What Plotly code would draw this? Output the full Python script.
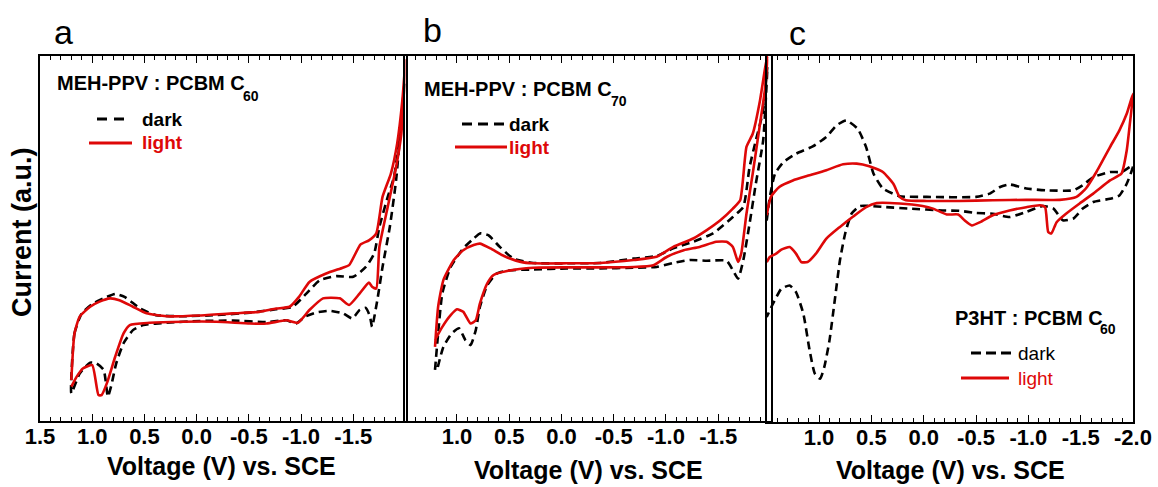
import plotly.graph_objects as go

W, H = 1158, 487

# ---------------- data (voltage V vs SCE, current a.u.) ----------------
a_dark_v = [1.20, 1.17, 1.10, 0.99, 0.86, 0.78, 0.69, 0.54, 0.39, 0.13, -0.19, -0.51, -0.76, -0.92, -1.05, -1.18, -1.34, -1.50, -1.62, -1.70, -1.75, -1.83, -1.89, -1.96, -1.99,
            -1.97, -1.91, -1.85, -1.78, -1.73, -1.68, -1.66, -1.62, -1.56, -1.49, -1.40, -1.27, -1.14, -1.04, -0.95, -0.86, -0.67, -0.35, -0.03, 0.29, 0.51, 0.61, 0.70, 0.77, 0.82, 0.85, 0.89, 0.96, 1.02, 1.12, 1.20]
a_dark_i = [7.6, 24, 29.5, 32.2, 34, 34.8, 34, 30.8, 29, 28.7, 29, 29.7, 30.6, 31.3, 34.9, 38.6, 39.7, 39.5, 42.2, 45.9, 53.2, 61.4, 66.9, 81.5, 92.4,
            86, 66, 53.2, 42.2, 33.1, 25.8, 28.6, 31, 30.4, 28.1, 29.5, 30.2, 29.7, 28.6, 26.7, 27.6, 27.1, 27.5, 27.4, 26.9, 26.3, 24.9, 21.3, 15.8, 9.4, 6.7, 14, 15.8, 16, 13, 7.6]

a_light_v = [1.20, 1.17, 1.12, 1.02, 0.93, 0.83, 0.74, 0.61, 0.48, 0.29, -0.03, -0.35, -0.60, -0.76, -0.89, -0.98, -1.08, -1.24, -1.40, -1.46, -1.57, -1.65, -1.72, -1.78, -1.86, -1.92, -1.97, -2.0,
             -1.96, -1.91, -1.83, -1.75, -1.72, -1.68, -1.65, -1.56, -1.46, -1.37, -1.21, -1.08, -0.97, -0.86, -0.67, -0.51, -0.19, 0.13, 0.45, 0.64, 0.70, 0.78, 0.86, 0.91, 0.94, 1.0, 1.09, 1.15, 1.20]
a_light_i = [11.2, 24, 28.6, 31.3, 32.7, 33.6, 33.1, 31.3, 29.5, 28.7, 28.9, 29.5, 29.9, 30.8, 31.3, 34.0, 38.1, 40.4, 42, 42.7, 48.4, 49.5, 51.4, 61.4, 67.8, 76, 87.9, 98.8,
             78.7, 69.6, 58.7, 47.7, 36.3, 36.8, 37.9, 34.9, 31.8, 33.6, 33.6, 30.4, 26.9, 27.6, 26.7, 26.7, 27.2, 27.2, 26.9, 26.3, 24, 17.6, 10.3, 7.1, 7.1, 15.3, 14.4, 12.1, 9.4]

b_dark_v = [1.21, 1.18, 1.14, 1.06, 0.94, 0.84, 0.78, 0.70, 0.59, 0.46, 0.27, -0.05, -0.37, -0.69, -0.91, -1.07, -1.26, -1.45, -1.64, -1.74, -1.80, -1.86, -1.93, -1.97,
            -1.93, -1.86, -1.80, -1.74, -1.69, -1.64, -1.58, -1.39, -1.23, -1.07, -0.91, -0.69, -0.37, -0.05, 0.27, 0.49, 0.62, 0.71, 0.78, 0.82, 0.87, 0.92, 0.98, 1.05, 1.13, 1.19]
b_dark_i = [14, 24, 35, 42.2, 47.3, 50, 51.4, 50.9, 47.7, 44.5, 43.3, 43.2, 43.3, 44.5, 45.2, 47.3, 49.1, 51.4, 55.9, 58.7, 69.6, 76.9, 85.1, 97,
            76.9, 65.1, 54.1, 44.1, 39, 41.3, 43.9, 43.9, 44.1, 43.3, 42.2, 42, 41.8, 41.8, 41.5, 41.3, 40.4, 37.2, 31.3, 24.9, 20.8, 22.2, 25.4, 24, 20.3, 14]

b_light_v = [1.21, 1.18, 1.13, 1.03, 0.94, 0.84, 0.78, 0.68, 0.55, 0.39, 0.27, -0.05, -0.37, -0.69, -0.91, -1.07, -1.26, -1.39, -1.52, -1.64, -1.71, -1.77, -1.83, -1.90, -1.95, -1.97,
             -1.95, -1.90, -1.83, -1.77, -1.72, -1.69, -1.64, -1.58, -1.48, -1.32, -1.17, -1.01, -0.88, -0.69, -0.37, -0.05, 0.27, 0.52, 0.65, 0.71, 0.78, 0.82, 0.87, 0.94, 1.0, 1.06, 1.14, 1.21]
b_light_i = [20.3, 31.3, 38.6, 44.1, 46.8, 48.2, 48.6, 47.3, 45.2, 43.6, 43.2, 43.2, 43.3, 44.1, 45, 47.7, 50, 52.3, 55, 58.2, 60.5, 75.1, 78.7, 87.9, 97, 99.9,
             91.5, 81.5, 67.8, 56.8, 45.9, 43.6, 47.7, 49.1, 49.1, 47.7, 46.8, 45, 42.7, 42.2, 42.1, 42.1, 42, 41.1, 40, 37.7, 32.2, 27.6, 26.7, 29.9, 30.6, 29, 25.8, 22.2]

c_dark_v = [1.50, 1.47, 1.42, 1.34, 1.22, 1.06, 0.93, 0.83, 0.74, 0.63, 0.55, 0.48, 0.39, 0.23, -0.03, -0.50, -0.63, -0.73, -0.82, -0.98, -1.17, -1.43, -1.52, -1.62, -1.78, -1.89, -2.0,
            -1.94, -1.87, -1.78, -1.62, -1.52, -1.43, -1.33, -1.24, -1.14, -0.98, -0.82, -0.66, -0.50, -0.34, -0.18, 0.13, 0.36, 0.61, 0.69, 0.75, 0.80, 0.85, 0.90, 0.95, 0.99, 1.04, 1.09, 1.15, 1.22, 1.28, 1.36, 1.44, 1.50]
c_dark_i = [55, 61.5, 67.9, 71, 73.3, 75.3, 77.9, 81.1, 82.4, 80.1, 75.1, 67.9, 63.8, 61.7, 61.5, 61.5, 62.4, 64.2, 64.9, 63.8, 63.3, 63.3, 64.7, 66.9, 68.3, 68.3, 70.1,
            65.1, 61.9, 61, 60.1, 58.3, 55.6, 55.1, 58.3, 59, 57.4, 56, 56.9, 57.1, 57.7, 57.8, 58.3, 58.7, 59, 56.9, 51.5, 44.2, 33.2, 22.3, 15, 11.8, 13.2, 19.6, 29.6, 35.5, 37.3, 36.4, 32.3, 28.7]

c_light_v = [1.50, 1.46, 1.38, 1.25, 1.09, 0.93, 0.77, 0.64, 0.52, 0.39, 0.29, 0.23, 0.17, -0.03, -0.34, -0.66, -0.98, -1.30, -1.46, -1.55, -1.65, -1.78, -1.87, -1.94, -2.0,
             -1.97, -1.94, -1.89, -1.78, -1.62, -1.49, -1.36, -1.27, -1.22, -1.19, -1.16, -1.11, -0.98, -0.82, -0.66, -0.54, -0.46, -0.39, -0.33, -0.22, -0.09, 0.01, 0.23, 0.45, 0.55, 0.68, 0.80, 0.93, 1.03, 1.11, 1.17, 1.22, 1.28, 1.36, 1.41, 1.47, 1.50]
c_light_i = [56.5, 61.5, 64.2, 66, 67.4, 68.8, 70.4, 70.6, 69.9, 68.3, 65.1, 61.5, 60.6, 60.4, 60.4, 60.6, 60.7, 60.7, 61.5, 63.8, 68.3, 75.1, 79.7, 84.2, 89.7,
             81.5, 74.2, 67.9, 66, 62.4, 59.7, 56.9, 54.6, 51.5, 51.9, 58.7, 59.2, 58.7, 57.8, 56.5, 54.6, 53.7, 55.1, 56.7, 56.7, 58.3, 59, 59.7, 59.8, 58.7, 56, 53.3, 50.1, 46, 43.7, 43.7, 46, 47.8, 47.1, 46, 45.1, 43.7]

tick_vals_a = [1.5, 1.0, 0.5, 0.0, -0.5, -1.0, -1.5]
tick_text_a = ["1.5", "1.0", "0.5", "0.0", "-0.5", "-1.0", "-1.5"]
tick_vals_b = [1.0, 0.5, 0.0, -0.5, -1.0, -1.5]
tick_text_b = ["1.0", "0.5", "0.0", "-0.5", "-1.0", "-1.5"]
tick_vals_c = [1.0, 0.5, 0.0, -0.5, -1.0, -1.5, -2.0]
tick_text_c = ["1.0", "0.5", "0.0", "-0.5", "-1.0", "-1.5", "-2.0"]

panel_titles = ["MEH-PPV : PCBM C", "MEH-PPV : PCBM C", "P3HT : PCBM C"]
panel_subscripts = ["60", "70", "60"]
series_names = ["dark", "light"]

RED = "rgb(222,8,8)"
FONT = "Liberation Sans, Arial, sans-serif"


def fx(p):
    return p / W


def fy(p):
    return 1 - p / H


fig = go.Figure()
panels = [
    ("x", "y", a_dark_v, a_dark_i, a_light_v, a_light_i),
    ("x2", "y2", b_dark_v, b_dark_i, b_light_v, b_light_i),
    ("x3", "y3", c_dark_v, c_dark_i, c_light_v, c_light_i),
]
for xa, ya, dv, di, lv, li in panels:
    fig.add_trace(go.Scatter(x=dv, y=di, mode="lines", xaxis=xa, yaxis=ya, name="dark",
                             line=dict(color="black", width=2.6, dash="8px,5px", shape="spline", smoothing=0.5),
                             showlegend=False, hoverinfo="skip"))
    fig.add_trace(go.Scatter(x=lv, y=li, mode="lines", xaxis=xa, yaxis=ya, name="light",
                             line=dict(color=RED, width=2.6, shape="spline", smoothing=0.5),
                             showlegend=False, hoverinfo="skip"))

domains_x = [(40, 405.5), (404.7, 770.5), (766.7, 1133)]
domains_y = [(56, 421), (56, 421), (56, 422)]
tick_sets = [(tick_vals_a, tick_text_a), (tick_vals_b, tick_text_b), (tick_vals_c, tick_text_c)]

layout = dict(width=W, height=H, autosize=False,
              margin=dict(l=0, r=0, t=0, b=0, pad=0, autoexpand=False),
              paper_bgcolor="white", plot_bgcolor="rgba(0,0,0,0)", showlegend=False)
for k in range(3):
    sx = "" if k == 0 else str(k + 1)
    layout["xaxis" + sx] = dict(
        range=[1.5, -2.0], domain=[fx(domains_x[k][0]), fx(domains_x[k][1])], anchor="y" + sx,
        automargin=False,
        showline=True, linecolor="black", linewidth=1.5, mirror="ticks",
        ticks="inside", ticklen=7, tickwidth=1.2, tickcolor="black",
        tickmode="array", tickvals=tick_sets[k][0], ticktext=tick_sets[k][1],
        ticklabelstandoff=-5,
        tickfont=dict(family=FONT, size=22, color="black", weight="bold"),
        minor=dict(ticks="inside", ticklen=4, tickwidth=1, tickcolor="black", dtick=0.1, tick0=0, showgrid=False),
        showgrid=False, zeroline=False, fixedrange=True)
    layout["yaxis" + sx] = dict(
        range=[0, 100], domain=[fy(domains_y[k][1]), fy(domains_y[k][0])], anchor="x" + sx,
        automargin=False,
        showline=True, linecolor="black", linewidth=1.5, mirror=True,
        ticks="", showticklabels=False, showgrid=False, zeroline=False, fixedrange=True)
fig.update_layout(**layout)

ann = []


def text(x, y, s, size, color="black", bold=True, xanchor="left", angle=0):
    ann.append(dict(x=fx(x), y=fy(y), xref="paper", yref="paper", text=s, showarrow=False,
                    xanchor=xanchor, yanchor="middle", textangle=angle,
                    font=dict(family=FONT, size=size, color=color, weight="bold" if bold else "normal")))


# panel letters
text(63, 32, "a", 34, bold=False, xanchor="center")
text(432, 30, "b", 34, bold=False, xanchor="center")
text(797, 33, "c", 34, bold=False, xanchor="center")
# axis titles
text(22, 232, "Current (a.u.)", 27, xanchor="center", angle=-90)
text(222, 466, "Voltage (V) vs. SCE", 25, xanchor="center")
text(588, 470, "Voltage (V) vs. SCE", 25, xanchor="center")
text(950, 470, "Voltage (V) vs. SCE", 25, xanchor="center")
# panel titles with subscripts
text(55, 83, panel_titles[0], 20)
text(241, 96, panel_subscripts[0], 14)
text(422, 89, panel_titles[1], 20)
text(609, 101, panel_subscripts[1], 14)
text(953, 318, panel_titles[2], 20)
text(1098, 329, panel_subscripts[2], 14)
# legends
shapes = []


def seg(x0, x1, y, color, dash):
    shapes.append(dict(type="line", xref="paper", yref="paper", x0=fx(x0), x1=fx(x1), y0=fy(y), y1=fy(y),
                       line=dict(color=color, width=3, dash=dash)))


seg(97, 127, 119, "black", "10px,7px")
seg(89, 132, 143, RED, "solid")
text(140, 119, series_names[0], 19)
text(140, 143, series_names[1], 19, color=RED)

seg(462, 506, 124, "black", "10px,6px")
seg(455, 507, 147, RED, "solid")
text(507, 124, series_names[0], 19)
text(507, 147, series_names[1], 19, color=RED)

seg(971, 1011, 353, "black", "10px,5px")
seg(961, 1009, 378, RED, "solid")
text(1016, 353, series_names[0], 19, bold=False)
text(1016, 378, series_names[1], 19, color=RED, bold=False)

fig.update_layout(annotations=ann, shapes=shapes)
fig.write_html("out.html", config={"responsive": False})
